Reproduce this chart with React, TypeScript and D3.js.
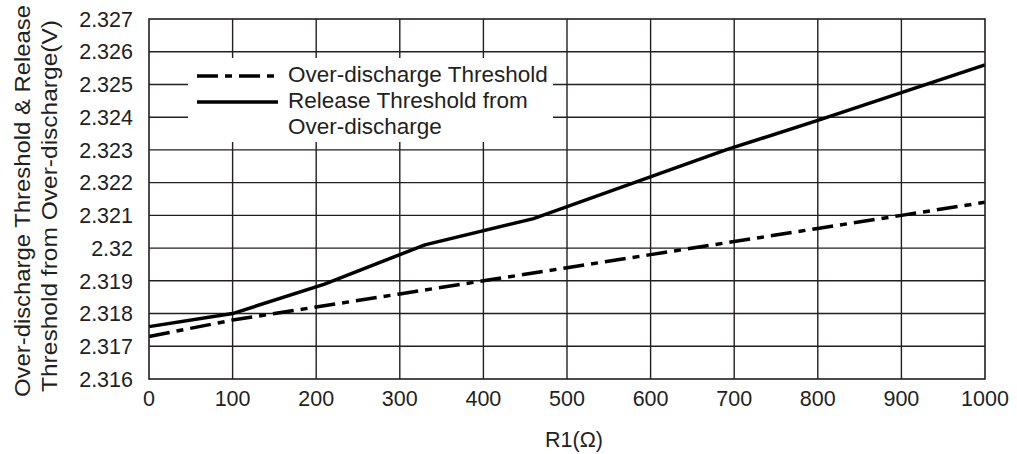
import React from "react";
import * as d3 from "d3";

const r1Dashed = [0, 100, 200, 300, 400, 500, 600, 700, 800, 900, 1000];
const overDischargeThreshold = [2.3173, 2.3178, 2.3182, 2.3186, 2.319, 2.3194, 2.3198, 2.3202, 2.3206, 2.321, 2.3214];
const r1Solid = [0, 100, 210, 330, 460, 690, 800, 1000];
const releaseThreshold = [2.3176, 2.318, 2.3189, 2.3201, 2.3209, 2.323, 2.3239, 2.3256];
const xTicks = [0, 100, 200, 300, 400, 500, 600, 700, 800, 900, 1000];
const yTicks = [2.316, 2.317, 2.318, 2.319, 2.32, 2.321, 2.322, 2.323, 2.324, 2.325, 2.326, 2.327];
const legendLabels = ["Over-discharge Threshold", "Release Threshold from", "Over-discharge"];
const xTitle = "R1(\u03A9)";
const yTitle1 = "Over-discharge Threshold & Release";
const yTitle2 = "Threshold from Over-discharge(V)";

const W = 1017;
const H = 454;
const L = 149, R = 985, T = 19, B = 379;
const INK = "#231f20";
const FONT = "'Liberation Sans', Arial, Helvetica, sans-serif";
const DASH = "21,7,7,7";

export default function App() {
  const x = d3.scaleLinear().domain([0, 1000]).range([L, R]);
  const y = d3.scaleLinear().domain([2.316, 2.327]).range([B, T]);
  const dashedPts: [number, number][] = r1Dashed.map((v, i) => [v, overDischargeThreshold[i]]);
  const solidPts: [number, number][] = r1Solid.map((v, i) => [v, releaseThreshold[i]]);
  const line = d3.line<[number, number]>().x((d) => x(d[0])).y((d) => y(d[1]));

  return (
    <svg
      width={W}
      height={H}
      style={{ position: "fixed", left: 0, top: 0, display: "block", background: "#fff" }}
      fontFamily={FONT}
    >
      <rect x={0} y={0} width={W} height={H} fill="#fff" />
      {xTicks.slice(1, -1).map((t) => (
        <line key={"vx" + t} x1={x(t)} x2={x(t)} y1={T} y2={B} stroke={INK} strokeWidth={1.4} />
      ))}
      {yTicks.slice(1, -1).map((t) => (
        <line key={"hy" + t} x1={L} x2={R} y1={y(t)} y2={y(t)} stroke={INK} strokeWidth={1.4} />
      ))}
      <rect x={188} y={58} width={365} height={84} fill="#fff" />
      <path d={line(dashedPts) || ""} fill="none" stroke="#000" strokeWidth={3.5} strokeDasharray={DASH} />
      <path d={line(solidPts) || ""} fill="none" stroke="#000" strokeWidth={3.5} />
      <rect x={L} y={T} width={R - L} height={B - T} fill="none" stroke={INK} strokeWidth={1.6} />
      <line x1={197} x2={278} y1={76} y2={76} stroke="#000" strokeWidth={3.5} strokeDasharray={DASH} />
      <line x1={197} x2={278} y1={102} y2={102} stroke="#000" strokeWidth={3.5} />
      <g fill={INK} fontSize={22.5}>
        <text x={288} y={82}>{legendLabels[0]}</text>
        <text x={288} y={108}>{legendLabels[1]}</text>
        <text x={288} y={134}>{legendLabels[2]}</text>
      </g>
      <g fill={INK} fontSize={21.5} textAnchor="end">
        {yTicks.map((t) => (
          <text key={"yt" + t} x={133} y={y(t)} dy="0.36em">{d3.format("")(t)}</text>
        ))}
      </g>
      <g fill={INK} fontSize={21.5} textAnchor="middle">
        {xTicks.map((t) => (
          <text key={"xt" + t} x={x(t)} y={406}>{t}</text>
        ))}
      </g>
      <text x={574} y={447} fontSize={21.5} fill={INK} textAnchor="middle">{xTitle}</text>
      <g fill={INK} fontSize={22} textAnchor="middle">
        <text transform={`translate(30,201) rotate(-90)`} textLength={392} lengthAdjust="spacingAndGlyphs">{yTitle1}</text>
        <text transform={`translate(57,206) rotate(-90)`} textLength={372} lengthAdjust="spacingAndGlyphs">{yTitle2}</text>
      </g>
    </svg>
  );
}
